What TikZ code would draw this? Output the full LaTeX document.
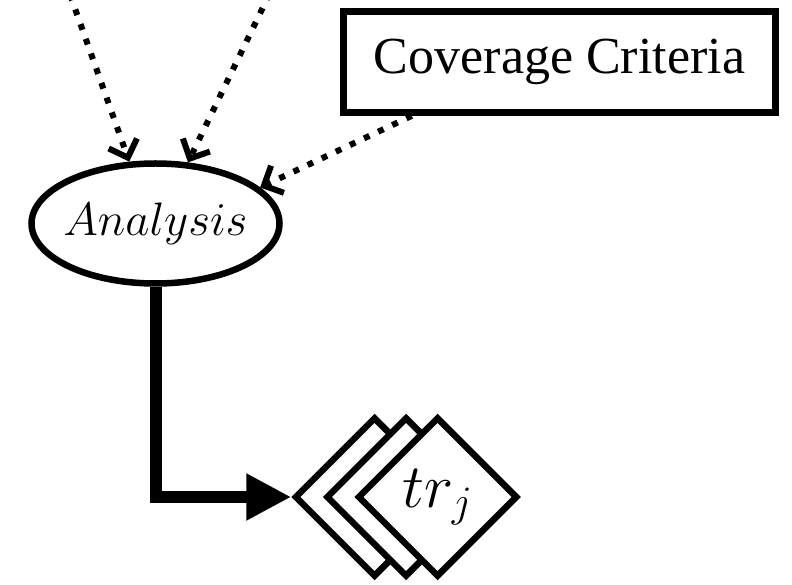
\documentclass[tikz,border=0pt]{standalone}
\usepackage{fix-cm}
\usepackage{fontspec}
\setmainfont{Liberation Serif}
\usetikzlibrary{arrows.meta,shapes.geometric,calc}

\begin{document}
\begin{tikzpicture}[x=1pt,y=1pt,
  outline/.style={draw=black, line width=6.5pt},
  proc/.style={outline, ellipse, inner sep=0pt,
    minimum width=248pt, minimum height=120pt,
    font=\fontsize{47}{56}\selectfont},
  databox/.style={outline, rectangle, inner sep=0pt,
    minimum width=432pt, minimum height=101pt,
    font=\fontsize{52}{62}\selectfont},
  artefact/.style={outline, diamond, aspect=1, fill=white, inner sep=0pt,
    minimum width=160pt, minimum height=160pt,
    font=\fontsize{62}{72}\selectfont},
  depends/.style={line width=6pt, dash pattern=on 6pt off 9.6pt,
    -{Straight Barb[length=15pt,width=30pt]}},
  flow/.style={line width=12pt,
    -{Triangle[length=45pt,width=44pt]}}
]
\path[use as bounding box] (0,0) rectangle (792,584);
\clip (0,0) rectangle (792,584);

% inputs entering from above
\coordinate (in1) at (64.9,604);
\coordinate (in2) at (276.2,604);

% the label is boxed to zero width so the ellipse keeps its fixed size
\node[proc] (ana) at (155.5,360.5) {\makebox[0pt]{$Analysis$}};
\node[databox] (cov) at (559.5,521.9) {Coverage Criteria};

% stacked test requirements, back to front
\node[artefact] (d3) at (374.5,87) {};
\node[artefact] (d2) at (406,87) {};
\node[artefact] (d1) at (437.5,87) {$tr_j$};

\draw[depends] (in1) -- (ana.113);
\draw[depends] (in2) -- (ana.62);
\draw[depends] (cov.200.2) -- (ana.19);
\draw[flow] (ana.south) |- (d3.west);
\end{tikzpicture}
\end{document}
